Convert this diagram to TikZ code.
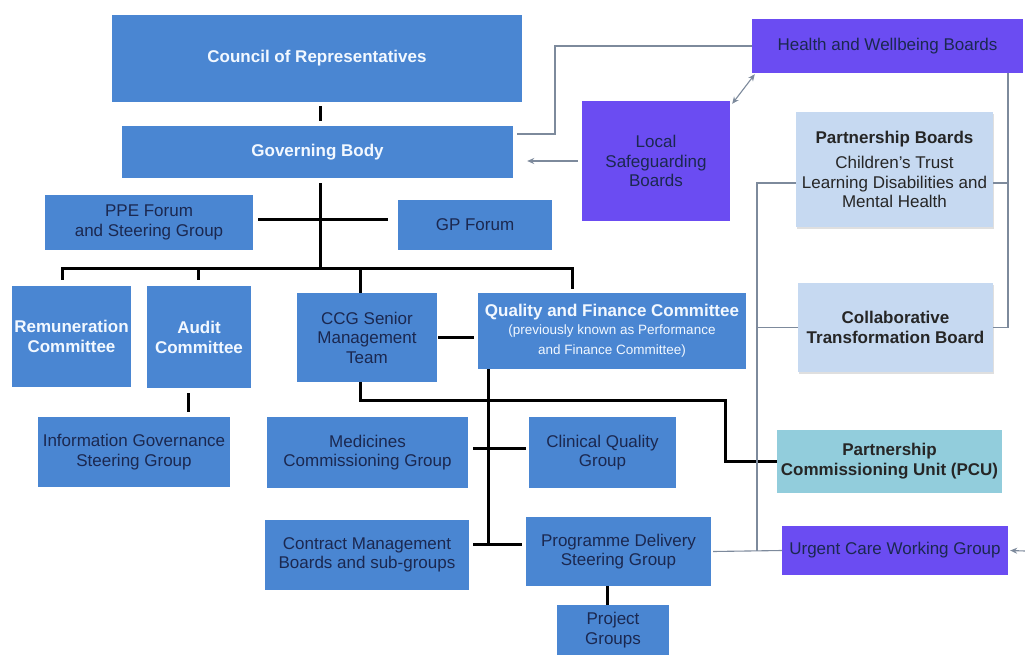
\documentclass[tikz,border=0pt]{standalone}
\usepackage{fontspec}
\setmainfont{Liberation Sans}
\usetikzlibrary{arrows.meta,calc,shadows}
\definecolor{mblue}{HTML}{4A86D2}
\definecolor{mpurple}{HTML}{6B4CF2}
\definecolor{lblue}{HTML}{C6D9F1}
\definecolor{cyanbox}{HTML}{92CDDC}
\definecolor{navy}{HTML}{1B2850}
\definecolor{softwhite}{HTML}{F2F8FF}
\definecolor{gline}{HTML}{7D8A9C}
\newcommand{\smallsub}{\fontsize{13.5}{17}\mdseries\selectfont}
\tikzset{
  basebox/.style={inner sep=1pt, align=center, font=\fontsize{17}{19.5}\selectfont},
  bluebox/.style={basebox, fill=mblue, text=navy},
  whitebox/.style={basebox, fill=mblue, text=softwhite, font=\fontsize{17}{20}\bfseries},
  purplebox/.style={basebox, fill=mpurple, text=navy},
  lightbox/.style={basebox, fill=lblue, text=black!85, drop shadow={shadow xshift=1pt, shadow yshift=-2pt, opacity=0.25}},
  cyanb/.style={basebox, fill=cyanbox, text=black!85, font=\fontsize{17}{20}\bfseries},
  thk/.style={line width=3pt, black},
  thn/.style={line width=1.1pt, gline},
  garrow/.style={thn, -{Stealth[length=7pt,width=6pt]}},
}
\begin{document}
\begin{tikzpicture}[x=1pt,y=-1pt]
\useasboundingbox (0,0) rectangle (1025,655);
\fill[white] (0,0) rectangle (1025,655);
% boxes
\node[whitebox, minimum width=410, minimum height=87] (cor) at (317,58.5) {Council of Representatives};
\node[whitebox, minimum width=391, minimum height=52] (gb) at (317.5,152) {Governing Body};
\node[purplebox, minimum width=271, minimum height=54] (hwb) at (887.5,46) {Health and Wellbeing Boards};
\node[purplebox, minimum width=148, minimum height=120] (lsb) at (656,161) {Local\\Safeguarding\\Boards};
\node[lightbox, minimum width=197, minimum height=115] (pb) at (894.5,169.5) {\bfseries Partnership Boards\\[6pt]\mdseries Children’s Trust\\\mdseries Learning Disabilities and\\\mdseries Mental Health};
\node[lightbox, minimum width=195, minimum height=89, font=\fontsize{17}{20}\bfseries] (ctb) at (895.5,327.5) {Collaborative\\Transformation Board};
\node[cyanb, minimum width=225, minimum height=63] (pcu) at (889.5,461.5) {Partnership\\Commissioning Unit (PCU)};
\node[purplebox, minimum width=226, minimum height=49] (ucwg) at (895,550.5) {Urgent Care Working Group};
\node[bluebox, minimum width=208, minimum height=55] (ppe) at (149,222.5) {PPE Forum\\and Steering Group};
\node[bluebox, minimum width=154, minimum height=50] (gp) at (475,225) {GP Forum};
\node[whitebox, minimum width=119, minimum height=101] (rem) at (71.5,336.5) {Remuneration\\Committee};
\node[whitebox, minimum width=104, minimum height=102] (aud) at (199,337) {Audit\\Committee};
\node[bluebox, minimum width=192, minimum height=70] (igsg) at (134,452) {Information Governance\\Steering Group};
\node[bluebox, minimum width=140, minimum height=89] (ccg) at (367,337.5) {CCG Senior\\Management\\Team};
\node[whitebox, minimum width=268, minimum height=76] (qfc) at (612,331) {Quality and Finance Committee\\[-2pt]\smallsub (previously known as Performance\\\smallsub and Finance Committee)};
\node[bluebox, minimum width=201, minimum height=71] (mcg) at (367.5,452.5) {Medicines\\Commissioning Group};
\node[bluebox, minimum width=147, minimum height=71] (cqg) at (602.5,452.5) {Clinical Quality\\Group};
\node[bluebox, minimum width=204, minimum height=70] (cmb) at (367,555) {Contract Management\\Boards and sub-groups};
\node[bluebox, minimum width=185, minimum height=69] (pdsg) at (618.5,551.5) {Programme Delivery\\Steering Group};
\node[bluebox, minimum width=112, minimum height=50] (pg) at (613,630) {Project\\Groups};
% coordinates
\coordinate (bus) at (320,269);
\coordinate (k1) at (725,400);
\coordinate (qb) at (488,544);
\coordinate (h1) at (555,134);
\coordinate (r1) at (1008,327.5);
\coordinate (l1) at (757,183);
\coordinate (l2) at (757,551);
\coordinate (ue) at (1025,551);
% thick connectors
\draw[thk] ($(cor.south)+(3,4)$) -- ($(gb.north)+(2.5,-5)$);
\draw[thk] ($(gb.south)+(2.5,5)$) -- (bus);
\draw[thk] ($(ppe.east)+(5,-2.5)$) -- ($(gp.west)+(-10,-5)$);
\draw[thk] ($(rem.north)+(-9.5,-6)$) |- ($(qfc.north)+(-40,-24)$) -- ($(qfc.north)+(-40,-4)$);
\draw[thk] ($(aud.north)+(-1,-6)$) -- ($(aud.north)+(-1,-17)$);
\draw[thk] ($(ccg.north)+(-7,0)$) -- ($(ccg.north)+(-7,-24)$);
\draw[thk] ($(aud.south)+(-11,5)$) -- ($(igsg.north)+(54,-5)$);
\draw[thk] ($(ccg.east)+(1,0)$) -- ($(qfc.west)+(-4,6.5)$);
\draw[thk] ($(ccg.south)+(-7,0)$) |- (k1) |- (pcu.west);
\draw[thk] ($(qfc.south)+(-124,0)$) -- (qb);
\draw[thk] ($(cmb.east |- qb)+(4,0)$) -- ($(pdsg.west |- qb)+(-4,0)$);
\draw[thk] ($(mcg.east)+(5,-4.5)$) -- ($(cqg.west)+(-3,-4.5)$);
\draw[thk] ($(pdsg.south)+(-11.5,0)$) -- ($(pg.north)+(-6,0)$);
% thin connectors
\draw[thn] (hwb.west) -| (h1) -- ($(gb.east)+(4,-18)$);
\draw[thn, {Stealth[length=7pt,width=6pt]}-{Stealth[length=7pt,width=6pt]}] ($(hwb.south west)+(3,1)$) -- ($(lsb.north east)+(2,3)$);
\draw[garrow] ($(lsb.west)+(-4,0)$) -- ($(gb.east)+(14,9)$);
\draw[thn] ($(hwb.south)+(120.5,0)$) -- (r1) -- (ctb.east);
\draw[thn] ($(pb.east)+(0,13.5)$) -- ($(pb.east)+(13.5,13.5)$);
\draw[thn] ($(pb.west)+(0,13.5)$) -- (l1) -- (l2);
\draw[thn] (ctb.west) -- (ctb.west -| l1);
\draw[thn] ($(pdsg.east)+(2,0)$) -- (ucwg.west);
\draw[garrow] (ue) -- ($(ucwg.east)+(2,0)$);
\end{tikzpicture}
\end{document}
